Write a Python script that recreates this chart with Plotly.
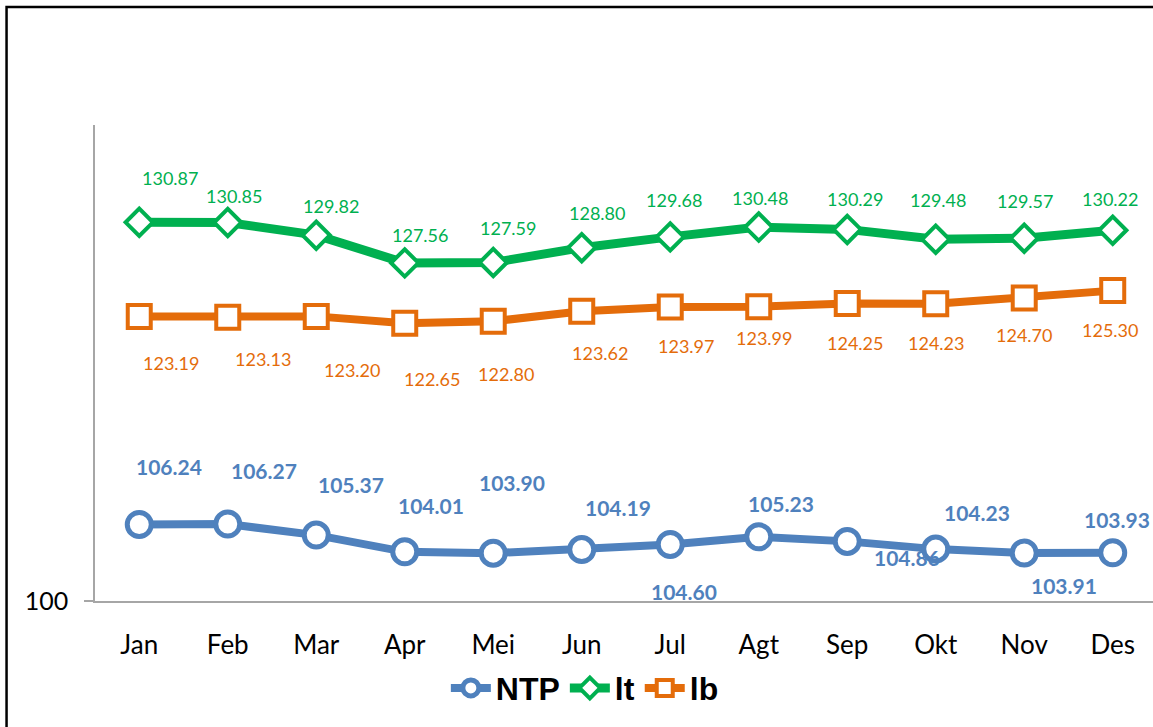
import plotly.graph_objects as go

months = ["Jan", "Feb", "Mar", "Apr", "Mei", "Jun", "Jul", "Agt", "Sep", "Okt", "Nov", "Des"]
ntp = [106.24, 106.27, 105.37, 104.01, 103.90, 104.19, 104.60, 105.23, 104.86, 104.23, 103.91, 103.93]
it = [130.87, 130.85, 129.82, 127.56, 127.59, 128.80, 129.68, 130.48, 130.29, 129.48, 129.57, 130.22]
ib = [123.19, 123.13, 123.20, 122.65, 122.80, 123.62, 123.97, 123.99, 124.25, 124.23, 124.70, 125.30]

# label offsets (px) relative to each point, as placed in the original
ntp_off = [(30, -58), (36, -54), (35, -51), (26, -46), (19, -71), (36, -42),
           (14, 47), (22, -33), (60, 16), (41, -37), (40, 32), (4, -33)]
it_off = [(31, -44), (6, -27), (15, -29), (15, -28), (15, -35), (15, -35),
          (4, -37), (1, -29), (8, -30), (2, -39), (1, -37), (-3, -31)]
ib_off = [(32, 46), (35, 42), (36, 54), (27, 56), (13, 53), (18, 42),
          (16, 39), (5, 31), (8, 39), (0, 39), (0, 37), (-3, 39)]

BLUE = "#4F81BD"
GREEN = "#00B050"
ORANGE = "#E46C0A"
FONT = "Lato, 'Open Sans', sans-serif"

fig = go.Figure()
fig.add_trace(go.Scatter(
    x=months, y=ntp, name="NTP", mode="lines+markers",
    line=dict(color=BLUE, width=8),
    marker=dict(symbol="circle", size=24, color="white", line=dict(color=BLUE, width=5)),
))
fig.add_trace(go.Scatter(
    x=months, y=it, name="lt", mode="lines+markers",
    line=dict(color=GREEN, width=9),
    marker=dict(symbol="diamond", size=21, color="white", line=dict(color=GREEN, width=4)),
))
fig.add_trace(go.Scatter(
    x=months, y=ib, name="lb", mode="lines+markers",
    line=dict(color=ORANGE, width=8),
    marker=dict(symbol="square", size=23, color="white", line=dict(color=ORANGE, width=4)),
))

annotations = []
for vals, offs, col, bold, size in [(ntp, ntp_off, BLUE, True, 21),
                                    (it, it_off, GREEN, False, 18),
                                    (ib, ib_off, ORANGE, False, 18)]:
    for m, v, (dx, dy) in zip(months, vals, offs):
        annotations.append(dict(
            x=m, y=v, xref="x", yref="y", text=f"{v:.2f}", showarrow=False,
            xshift=dx, yshift=-dy, xanchor="center", yanchor="middle",
            font=dict(family=FONT, size=size, color=col, weight="bold" if bold else "normal"),
        ))

fig.update_layout(
    width=1153, height=727,
    margin=dict(l=95, r=0, t=125, b=126),
    paper_bgcolor="white", plot_bgcolor="white",
    showlegend=True,
    legend=dict(
        orientation="h", x=0.463, xanchor="center", y=-0.183, yanchor="middle",
        font=dict(family="'Liberation Sans Narrow', 'Liberation Sans', Arial", size=32, color="black", weight="bold"),
        itemwidth=40, tracegroupgap=0, bgcolor="rgba(0,0,0,0)",
    ),
    annotations=annotations,
    shapes=[dict(type="rect", xref="paper", yref="paper",
                 x0=-0.0836, x1=1.05, y0=-0.5, y1=1.248,
                 line=dict(color="black", width=2.5), fillcolor="rgba(0,0,0,0)", layer="below")],
)
fig.update_xaxes(
    range=[-0.5, 11.455], showline=True, linecolor="#A6A6A6", linewidth=1.5,
    showgrid=False, zeroline=False, ticks="outside", ticklen=20, tickcolor="rgba(0,0,0,0)",
    tickfont=dict(family=FONT, size=26, color="black"),
)
fig.update_yaxes(
    range=[100, 138.8], showline=True, linecolor="#A6A6A6", linewidth=1.5,
    showgrid=False, zeroline=False, tickvals=[100], ticktext=["100"],
    ticks="outside", ticklen=9, tickcolor="#A6A6A6", tickwidth=1.5,
    ticklabelstandoff=11,
    tickfont=dict(family=FONT, size=25, color="black"),
)

fig.write_html("out.html", config={"displayModeBar": False},
               post_script="document.body.style.margin='0';document.body.style.overflow='hidden';")
